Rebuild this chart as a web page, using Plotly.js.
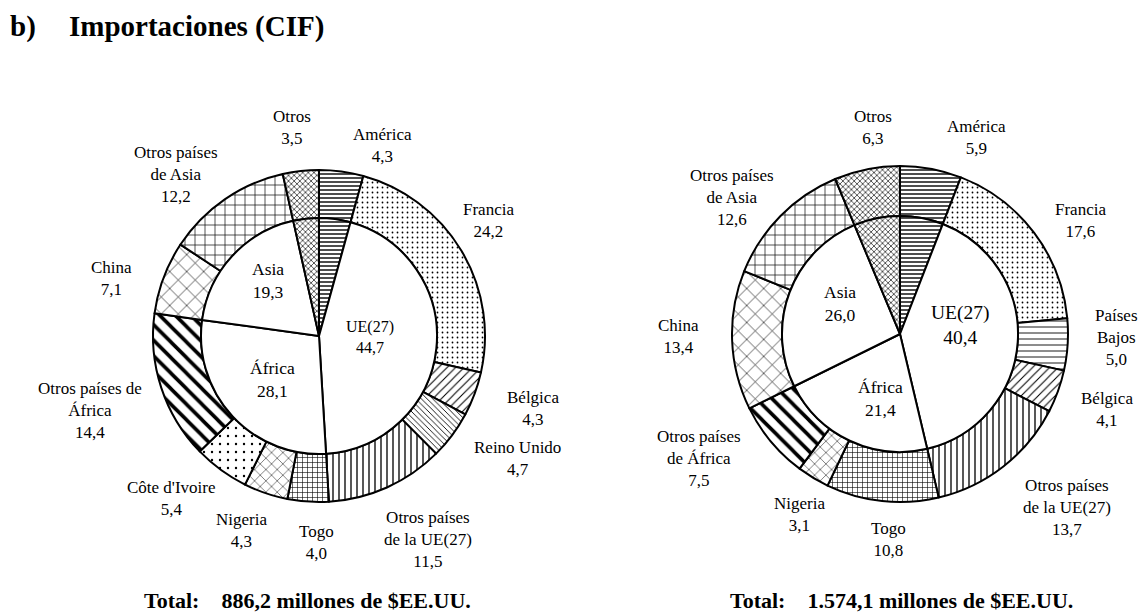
<!DOCTYPE html>
<html>
<head>
<meta charset="utf-8">
<script src="https://cdn.plot.ly/plotly-3.0.1.min.js"></script>
<style>html,body{margin:0;padding:0;background:#fff;}#chart{width:1141px;height:616px;}</style>
</head>
<body>
<div id="chart"></div>
<script>
// ---------- DATA ----------
const leftLabels = ['América','Francia','Bélgica','Reino Unido','Otros países<br>de la UE(27)','Togo','Nigeria',"Côte d'Ivoire",'Otros países de<br>África','China','Otros países<br>de Asia','Otros'];
const leftValues = [4.3,24.2,4.3,4.7,11.5,4.0,4.3,5.4,14.4,7.1,12.2,3.5];
const leftRegionLabels = ['América','UE(27)','África','Asia','Otros'];
const leftRegionValues = [4.3,44.7,28.1,19.3,3.5];
const leftTotal = '886,2';

const rightLabels = ['América','Francia','Países<br>Bajos','Bélgica','Otros países<br>de la UE(27)','Togo','Nigeria','Otros países<br>de África','China','Otros países<br>de Asia','Otros'];
const rightValues = [5.9,17.6,5.0,4.1,13.7,10.8,3.1,7.5,13.4,12.6,6.3];
const rightRegionLabels = ['América','UE(27)','África','Asia','Otros'];
const rightRegionValues = [5.9,40.4,21.4,26.0,6.3];
const rightTotal = '1.574,1';

const titleText = 'Importaciones (CIF)';
const totalPrefix = 'Total:';
const totalSuffix = 'millones de $EE.UU.';

// ---------- STYLE ----------
const W = 1141, H = 616;
const FONT = 'Liberation Serif, Times New Roman, serif';
const PATTERNS = {
  'América': {shape:'-', size:4, solidity:0.35},
  'Francia': {shape:'.', size:5, solidity:0.1},
  'Bélgica': {shape:'/', size:6, solidity:0.18},
  'Reino Unido': {shape:'\\', size:4, solidity:0.22},
  'Países Bajos': {shape:'-', size:6, solidity:0.15},
  'Otros países de la UE(27)': {shape:'|', size:6, solidity:0.22},
  'Togo': {shape:'+', size:5, solidity:0.22},
  'Nigeria': {shape:'x', size:8, solidity:0.12},
  "Côte d'Ivoire": {shape:'.', size:8, solidity:0.07},
  'Otros países de África': {shape:'\\', size:11, solidity:0.33},
  'China': {shape:'x', size:12, solidity:0.1},
  'Otros países de Asia': {shape:'+', size:10, solidity:0.13},
  'Otros': {shape:'x', size:4, solidity:0.3}
};
const NONE = {shape:'', size:8, solidity:0.3};

// chart geometry (layout)
const LEFT = {cx:319, cy:336, R:166, r:118, totalX:142};
const RIGHT = {cx:900, cy:334, R:168, r:118, totalX:728};
// label placement tweaks: [angle offset deg, distance beyond outer edge px]
const LEFT_ADJ = [[10.6,35],[-3.5,39],[-1.8,60],[-5,67],[-4,65],[-3,41],[3,43],[6,53],[0,75],[-5,49],[-7,50],[-1,44]];
const RIGHT_ADJ = [[10.7,43],[5,45],[-2.8,49],[0,52],[-6,73],[-3,38],[-2,39],[8,68],[1.5,54],[-5.6,48],[3.8,40]];
// inner: [angle offset, distance from centre], null = no label
const LEFT_IN_ADJ = [null,[-5,51],[0,64],[5,75],null];
const RIGHT_IN_ADJ = [null,[-12.5,61],[-8,67],[6.5,67],null];

const plain = s => s.replace(/<br>/g,' ');
const fmt = v => v.toFixed(1).replace('.',',');

function pieTrace(labels, values, g, radius, hole) {
  const keys = labels.map(plain);
  const pats = keys.map(k => PATTERNS[k] || NONE);
  return {
    type:'pie', labels: keys, values: values, sort:false, direction:'clockwise', rotation:0,
    hole: hole,
    domain:{x:[(g.cx-radius)/W,(g.cx+radius)/W], y:[1-(g.cy+radius)/H, 1-(g.cy-radius)/H]},
    marker:{colors: keys.map(()=>'#ffffff'), line:{color:'#000', width:2},
      pattern:{shape:pats.map(p=>p.shape), size:pats.map(p=>p.size), solidity:pats.map(p=>p.solidity),
               fgcolor:'#000', bgcolor:'#fff', fillmode:'replace'}},
    textinfo:'none', hoverinfo:'skip', showlegend:false
  };
}

function labelAnns(labels, values, g, adj, base, size) {
  const total = values.reduce((a,b)=>a+b,0);
  let cum = 0; const out = [];
  values.forEach((v,i) => {
    const mid = (cum + v/2)/total; cum += v;
    const a = adj[i]; if (!a) return;
    const ang = (mid*360 + a[0]) * Math.PI/180;
    const d = base + a[1];
    const x = g.cx + d*Math.sin(ang), y = g.cy - d*Math.cos(ang);
    const sz = typeof size === 'function' ? size(i) : size;
    out.push({x:x/W, y:1-y/H, xref:'paper', yref:'paper', xanchor:'center', yanchor:'middle',
      showarrow:false, text: labels[i] + '<br>' + fmt(v), font:{family:FONT, size:sz, color:'#000'}});
  });
  return out;
}

const data = [
  pieTrace(leftLabels, leftValues, LEFT, LEFT.R, LEFT.r/LEFT.R),
  pieTrace(leftRegionLabels, leftRegionValues, LEFT, LEFT.r, 0),
  pieTrace(rightLabels, rightValues, RIGHT, RIGHT.R, RIGHT.r/RIGHT.R),
  pieTrace(rightRegionLabels, rightRegionValues, RIGHT, RIGHT.r, 0)
];

let annotations = [];
annotations = annotations.concat(labelAnns(leftLabels, leftValues, LEFT, LEFT_ADJ, LEFT.R, 17));
annotations = annotations.concat(labelAnns(rightLabels, rightValues, RIGHT, RIGHT_ADJ, RIGHT.R, 17));
annotations = annotations.concat(labelAnns(leftRegionLabels, leftRegionValues, LEFT, LEFT_IN_ADJ, 0, i => i===1 ? 16 : 17.5));
annotations = annotations.concat(labelAnns(rightRegionLabels, rightRegionValues, RIGHT, RIGHT_IN_ADJ, 0, i => i===1 ? 19.5 : 17.5));

annotations.push({x:8/W, y:1-27/H, xref:'paper', yref:'paper', xanchor:'left', yanchor:'middle', showarrow:false,
  text:'<b>b)</b>', font:{family:FONT, size:29, color:'#000'}});
annotations.push({x:67/W, y:1-27/H, xref:'paper', yref:'paper', xanchor:'left', yanchor:'middle', showarrow:false,
  text:'<b>'+titleText+'</b>', font:{family:FONT, size:29, color:'#000'}});
[[LEFT,leftTotal],[RIGHT,rightTotal]].forEach(([g,t]) => {
  annotations.push({x:g.totalX/W, y:1-600/H, xref:'paper', yref:'paper', xanchor:'left', yanchor:'middle', showarrow:false,
    text:'<b>'+totalPrefix+'&nbsp;&nbsp;&nbsp;&nbsp;'+t+' '+totalSuffix+'</b>', font:{family:FONT, size:22, color:'#000'}});
});

const layout = {
  width:W, height:H, margin:{l:0,r:0,t:0,b:0},
  paper_bgcolor:'#fff', plot_bgcolor:'#fff',
  showlegend:false, annotations: annotations
};
Plotly.newPlot('chart', data, layout, {displayModeBar:false, staticPlot:true});
</script>
</body>
</html>
